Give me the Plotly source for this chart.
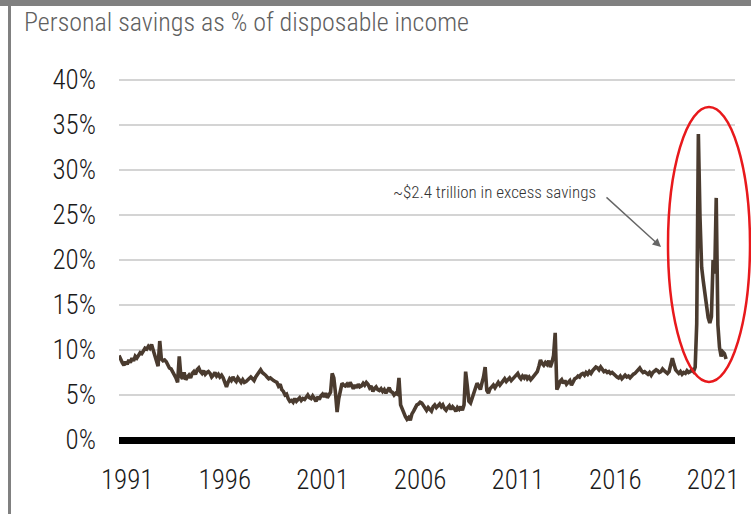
import pandas as pd
import plotly.graph_objects as go

# Monthly personal saving rate (%), Aug 1990 - Sep 2021
start_month = "1990-08-01"
y1990 = [9.4, 8.9, 8.6, 8.3, 8.7]
y1991 = [8.4, 8.9, 8.6, 9.1, 8.8, 9.3, 9.1, 9.5, 9.7, 9.6, 10.0, 10.2]
y1992 = [10.1, 10.4, 10.2, 10.6, 10.0, 9.4, 8.6, 8.2, 11.0, 9.0, 8.8, 8.9]
y1993 = [8.7, 8.4, 8.0, 7.9, 7.6, 7.3, 6.9, 6.4, 9.3, 7.1, 6.8, 7.5]
y1994 = [6.7, 7.0, 7.2, 6.9, 7.4, 7.6, 7.3, 7.8, 8.0, 7.6, 7.4, 7.7]
y1995 = [7.3, 7.5, 7.6, 7.4, 7.0, 7.2, 7.5, 7.1, 7.3, 7.0, 7.2, 6.9]
y1996 = [6.5, 5.9, 6.4, 6.8, 6.6, 7.0, 6.7, 6.5, 6.9, 6.6, 6.4, 6.7]
y1997 = [6.4, 6.5, 6.7, 6.9, 7.0, 6.8, 6.6, 7.0, 7.3, 7.6, 7.8, 7.5]
y1998 = [7.4, 7.2, 7.0, 6.8, 6.9, 6.7, 6.6, 6.5, 6.4, 6.0, 6.2, 5.6]
y1999 = [5.4, 5.0, 5.1, 4.6, 4.3, 4.4, 4.2, 4.6, 4.3, 4.5, 4.7, 4.4]
y2000 = [4.6, 4.5, 4.8, 5.0, 4.7, 4.6, 4.9, 4.6, 4.3, 4.8, 4.5, 4.9]
y2001 = [5.1, 4.8, 5.2, 4.7, 5.0, 5.3, 7.4, 6.9, 5.2, 3.1, 4.6, 5.5]
y2002 = [6.3, 6.1, 6.0, 6.2, 5.9, 6.4, 6.0, 5.7, 6.1, 5.8, 6.2, 5.9]
y2003 = [6.0, 6.3, 6.1, 6.4, 6.2, 5.8, 6.0, 5.4, 5.7, 5.9, 5.6, 5.5]
y2004 = [5.7, 5.4, 5.6, 5.2, 5.5, 5.8, 5.4, 5.3, 5.0, 5.2, 5.1, 6.9]
y2005 = [3.9, 3.4, 3.0, 2.6, 2.3, 2.5, 2.2, 2.9, 3.2, 3.6, 3.9, 4.0]
y2006 = [4.2, 4.1, 3.8, 3.5, 3.3, 3.6, 3.4, 3.2, 3.7, 3.9, 3.6, 3.8]
y2007 = [4.0, 3.7, 3.9, 3.5, 3.3, 3.6, 3.8, 3.4, 3.7, 3.5, 3.2, 3.6]
y2008 = [3.4, 3.7, 3.3, 3.9, 7.6, 6.0, 4.3, 4.1, 4.7, 5.4, 6.0, 6.3]
y2009 = [6.0, 5.6, 6.3, 7.0, 8.1, 5.5, 5.2, 5.7, 5.9, 6.1, 5.8, 6.2]
y2010 = [6.4, 6.1, 6.3, 6.6, 6.8, 6.5, 6.7, 6.9, 6.6, 6.8, 7.0, 7.2]
y2011 = [7.4, 7.0, 6.8, 7.1, 6.9, 7.2, 6.8, 7.0, 6.7, 6.9, 7.1, 7.3]
y2012 = [7.6, 8.2, 8.9, 8.5, 8.3, 8.6, 8.4, 8.8, 8.1, 8.6, 9.4, 11.9]
y2013 = [5.6, 6.0, 6.5, 6.7, 6.3, 6.6, 6.2, 6.4, 6.6, 6.1, 6.5, 6.8]
y2014 = [6.9, 7.1, 7.0, 7.3, 7.4, 7.2, 7.5, 7.3, 7.6, 7.4, 7.7, 7.9]
y2015 = [8.1, 8.0, 7.8, 8.1, 7.9, 7.6, 7.7, 7.5, 7.6, 7.4, 7.5, 7.3]
y2016 = [7.2, 7.0, 6.9, 7.1, 6.8, 7.0, 7.2, 7.0, 7.1, 6.9, 7.2, 7.3]
y2017 = [7.4, 7.6, 7.8, 8.0, 7.7, 7.5, 7.6, 7.4, 7.3, 7.5, 7.2, 7.5]
y2018 = [7.6, 7.8, 7.7, 7.5, 7.6, 7.9, 7.7, 7.6, 7.4, 7.6, 8.2, 9.1]
y2019 = [8.4, 7.8, 7.6, 7.4, 7.6, 7.3, 7.5, 7.4, 7.7, 7.5, 7.6, 7.8]
y2020 = [7.6, 8.1, 12.9, 34.0, 24.8, 19.2, 17.7, 16.1, 14.5, 13.6, 13.0, 13.7]
y2021 = [20.0, 18.5, 26.9, 12.8, 10.3, 9.3, 9.8, 9.6, 9.0]

savings_rate = (y1990 + y1991 + y1992 + y1993 + y1994 + y1995 + y1996 + y1997
                + y1998 + y1999 + y2000 + y2001 + y2002 + y2003 + y2004 + y2005
                + y2006 + y2007 + y2008 + y2009 + y2010 + y2011 + y2012 + y2013
                + y2014 + y2015 + y2016 + y2017 + y2018 + y2019 + y2020 + y2021)
months = pd.date_range(start_month, periods=len(savings_rate), freq="MS")

tick_years = [1991, 1996, 2001, 2006, 2011, 2016, 2021]
y_ticks = [0, 5, 10, 15, 20, 25, 30, 35, 40]
y_tick_labels = [f"{v}%" for v in y_ticks]

title_text = "Personal savings as % of disposable income"
note_text = "~$2.4 trillion in excess savings"

FONT = "Liberation Sans Narrow, Roboto Condensed, DejaVu Sans Condensed, Arial Narrow, sans-serif"

W, H = 751, 514
L, R, T, B = 119, 16, 71, 65
pw, ph = W - L - R, H - T - B


def px(x):
    return (x - L) / pw


def py(y):
    return (H - B - y) / ph


fig = go.Figure()
fig.add_trace(go.Scatter(
    x=months, y=savings_rate, mode="lines",
    line=dict(color="#4a3b2f", width=3.6),
    showlegend=False, hoverinfo="x+y",
))

fig.update_layout(
    width=W, height=H,
    margin=dict(l=L, r=R, t=T, b=B),
    paper_bgcolor="white", plot_bgcolor="white",
    font=dict(family=FONT, color="#222222"),
    xaxis=dict(
        type="date",
        range=["1990-08-01", "2022-02-15"],
        tickvals=[f"{yr}-01-01" for yr in tick_years],
        ticktext=[str(yr) for yr in tick_years],
        tickfont=dict(size=27, color="#1a1a1a", weight=300),
        showgrid=False, zeroline=False, showline=False, ticks="",
        ticklabelstandoff=12,
    ),
    yaxis=dict(
        range=[-1, 41],
        tickvals=y_ticks, ticktext=y_tick_labels,
        tickfont=dict(size=27, color="#1a1a1a", weight=300),
        showgrid=True, gridcolor="#d4d4d4", gridwidth=2,
        zeroline=True, zerolinecolor="black", zerolinewidth=7,
        showline=False, ticks="", ticklabelstandoff=22,
    ),
    shapes=[
        dict(type="circle", xref="paper", yref="paper",
             x0=px(668), x1=px(750), y0=py(382), y1=py(107),
             line=dict(color="#e8191c", width=2.5)),
        dict(type="rect", xref="paper", yref="paper",
             x0=px(0), x1=px(751), y0=py(6), y1=py(0),
             line=dict(width=0), fillcolor="#808080"),
        dict(type="rect", xref="paper", yref="paper",
             x0=px(8), x1=px(11), y0=py(514), y1=py(0),
             line=dict(width=0), fillcolor="#808080"),
    ],
    annotations=[
        dict(text=title_text, xref="paper", yref="paper",
             x=px(22), y=py(22), xanchor="left", yanchor="middle",
             showarrow=False,
             font=dict(size=26, color="#606060", family=FONT, weight=300)),
        dict(text=note_text, xref="paper", yref="paper",
             x=px(598), y=py(192), xanchor="right", yanchor="middle",
             showarrow=False,
             font=dict(size=17, color="#333333", family=FONT, weight=300)),
        dict(text="", xref="paper", yref="paper",
             x=px(661), y=py(247), ax=-56, ay=-51,
             showarrow=True, arrowhead=2, arrowsize=1.2, arrowwidth=1.4,
             arrowcolor="#666666"),
    ],
)

fig.write_html(
    "out.html",
    config={"displayModeBar": False},
    post_script="document.body.style.margin='0';document.body.style.overflow='hidden';",
)
